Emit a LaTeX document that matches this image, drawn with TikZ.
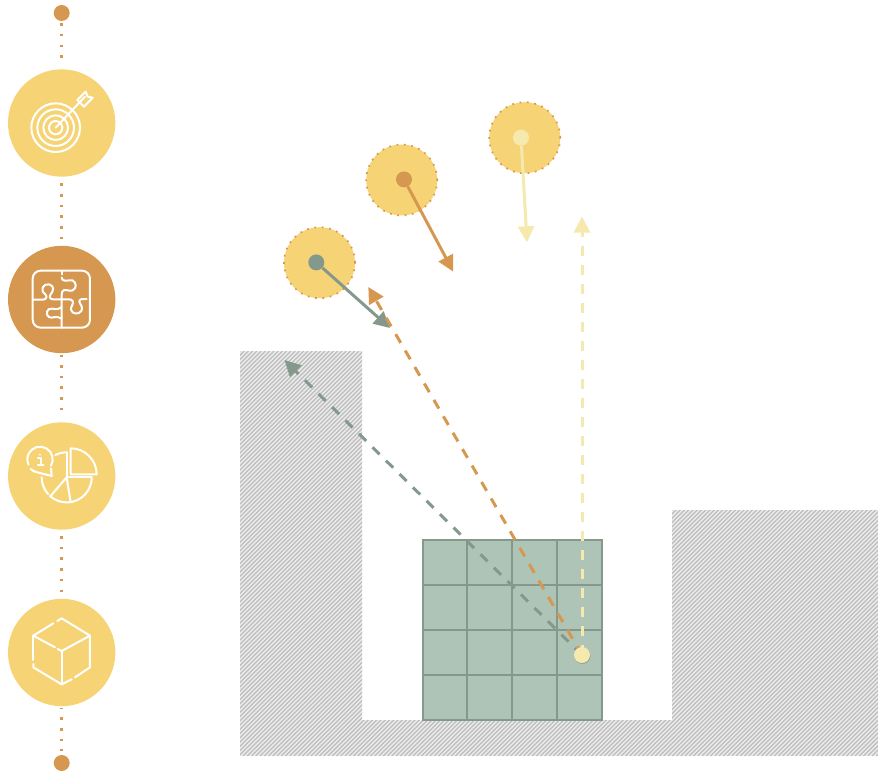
\documentclass[tikz,border=0pt]{standalone}
\usepackage{xcolor}
\usetikzlibrary{arrows.meta}
\definecolor{sandyellow}{RGB}{246, 212, 117}
\definecolor{clayorange}{RGB}{214, 152, 80}
\definecolor{sagegreen}{RGB}{132, 153, 139}
\definecolor{paleyellow}{RGB}{245, 233, 174}
\definecolor{gridgreen}{RGB}{174, 196, 182}
\tikzset{
    bigdisc/.style={circle, inner sep=0pt, minimum size=107.4pt},
    enddot/.style={circle, inner sep=0pt, fill=clayorange, minimum size=16pt},
    robot/.style={circle, inner sep=0pt, minimum size=71pt, fill=sandyellow, draw=clayorange, line width=1.7pt, dash pattern=on 1.7pt off 5.7pt},
    eye/.style={circle, inner sep=0pt, minimum size=16pt},
    iconline/.style={white, line width=2pt, line cap=round, line join=round},
    move/.style={-{Triangle[length=16pt,width=16pt]}, line width=3pt},
    throw/.style={-{Triangle[length=16pt,width=16pt]}, line width=3pt, dash pattern=on 10pt off 9pt},
    zoomed/.style={x=0.33333pt, y=-0.33333pt, shift={(0pt,-#1 pt)}}
}

\begin{document}
\begin{tikzpicture}[x=1pt, y=-1pt]
    \useasboundingbox (0,0) rectangle (878,776);

    % hatched walls
    \begin{scope}
        \clip (240,351) -- (362,351) -- (362,720) -- (672,720) -- (672,510) -- (878,510) -- (878,756) -- (240,756) -- cycle;
        \fill[black!8] (240,351) rectangle (878,756);
        \foreach \i in {-405,-400.75,...,640} {
            \draw[black!26, line width=1.2pt] (240+\i,756) -- (645+\i,351);
        }
    \end{scope}

    % left column
    \node[enddot] (topdot) at (61.7,13) {};
    \node[bigdisc, fill=sandyellow] (goal) at (61.7,123) {};
    \node[bigdisc, fill=clayorange] (puzzle) at (61.7,299.5) {};
    \node[bigdisc, fill=sandyellow] (chart) at (61.7,476) {};
    \node[bigdisc, fill=sandyellow] (cube) at (61.7,652.5) {};
    \node[enddot] (bottomdot) at (61.7,763) {};
    \foreach \a/\b/\p in {topdot/goal/10.12, goal/puzzle/5.62, puzzle/chart/0.42, chart/cube/5.92, cube/bottomdot/1.12} {
        \draw[clayorange, line width=3pt, dash pattern=on 2.5pt off 8.17pt, dash phase=\p pt, shorten <=1.5pt, shorten >=4pt] (\a) -- (\b);
    }

    % target
    \begin{scope}[iconline, zoomed=0]
        \foreach \r in {73,55,37,20} {
            \draw (167,383) circle[radius=\r];
        }
        \draw (167,383) -- (255,290);
        \draw (232,300) -- (257,275) -- (263,290) -- (278,293) -- (252,320) -- cycle;
    \end{scope}

    % puzzle
    \begin{scope}[iconline, zoomed=235]
        \draw[rounded corners=8pt] (98,107) rectangle (270,278);
        \draw (185,107) -- (185,118);
        \draw (185,128) .. controls (185,138) and (200,138) .. (207,136) .. controls (222,130) and (232,150) .. (225,160) .. controls (215,175) and (200,162) .. (192,165) .. controls (186,168) and (185,172) .. (185,180) -- (185,278);
        \draw (100,194) -- (128,194) .. controls (140,194) and (142,184) .. (136,178) .. controls (118,165) and (130,145) .. (147,148) .. controls (165,152) and (160,170) .. (152,178) .. controls (146,186) and (150,193) .. (160,193) -- (207,193) .. controls (218,193) and (222,200) .. (216,212) .. controls (205,230) and (225,240) .. (237,234) .. controls (252,226) and (245,212) .. (240,205) .. controls (235,197) and (240,192) .. (250,192) -- (260,192);
        \draw (185,216) .. controls (175,224) and (165,224) .. (156,221) .. controls (140,218) and (135,240) .. (147,246) .. controls (160,252) and (165,242) .. (172,246) .. controls (178,248) and (182,250) .. (185,250);
    \end{scope}

    % chart
    \begin{scope}[iconline, zoomed=415]
        \draw (212,100) arc[start angle=-90, end angle=0, radius=78] -- (212,178) -- cycle;
        \draw (200,112) -- (200,187) -- (275,187);
        \draw (200,187) -- (150,245);
        \draw (200,187) -- (212,262);
        \draw (200,112) arc[start angle=-90, end angle=-117, radius=75];
        \draw (125,187) arc[start angle=180, end angle=138, radius=75];
        \draw (150,243) arc[start angle=132, end angle=0, radius=75];
        \draw (153,152) arc[start angle=30, end angle=-205, radius=38];
        \draw (92,162) arc[start angle=134, end angle=98, radius=38] -- (155,183) -- (153,160);
        \fill (120,119) circle[radius=3];
        \draw (114,129) -- (122,129) -- (122,151);
        \draw (114,151) -- (130,151);
    \end{scope}

    % cube
    \begin{scope}[iconline, zoomed=590]
        \draw (160,100) -- (100,137) -- (165,172);
        \draw (173,177) -- (185,183) -- (270,137) -- (185,85) -- (172,93);
        \draw (100,137) -- (100,210);
        \draw (100,222) -- (100,232) -- (185,283) -- (215,268);
        \draw (225,262) -- (270,232) -- (270,137);
        \draw (185,183) -- (185,283);
    \end{scope}

    % free end points
    \coordinate (launch) at (582,655);
    \coordinate (greentarget) at (284.5,360);
    \coordinate (orangetarget) at (368.3,287);
    \coordinate (yellowtarget) at (582,216.5);
    \coordinate (greenstep) at (390,328);
    \coordinate (orangestep) at (453.3,271.7);
    \coordinate (yellowstep) at (527,242.3);

    % grid
    \draw[sagegreen, line width=2pt, fill=gridgreen] (422.5,540) rectangle (601.5,720);
    \foreach \x in {467.25,512,556.75} {
        \draw[sagegreen, line width=2pt] (\x,540) -- (\x,720);
    }
    \foreach \y in {585,630,675} {
        \draw[sagegreen, line width=2pt] (422.5,\y) -- (601.5,\y);
    }

    % robots
    \node[robot] (robotgreen) at (319.5,262.7) {};
    \node[robot] (robotorange) at (401.7,180) {};
    \node[robot] (robotyellow) at (524.7,137.7) {};
    \node[eye, fill=sagegreen] (eyegreen) at (316.3,262.4) {};
    \node[eye, fill=clayorange] (eyeorange) at (404,179.4) {};
    \node[eye, fill=paleyellow] (eyeyellow) at (521,137.7) {};
    \draw[move, sagegreen] (eyegreen) -- (greenstep);
    \draw[move, clayorange] (eyeorange) -- (orangestep);
    \draw[move, paleyellow] (eyeyellow) -- (yellowstep);

    % throws
    \draw[throw, sagegreen] (launch) -- (greentarget);
    \draw[throw, clayorange] (launch) -- (orangetarget);
    \draw[throw, paleyellow] (launch) -- (yellowtarget);
    \node[eye, fill=sagegreen] (launchshadow) at (582.4,655.8) {};
    \node[eye, fill=paleyellow] (launchdot) at (582,655) {};
\end{tikzpicture}
\end{document}
